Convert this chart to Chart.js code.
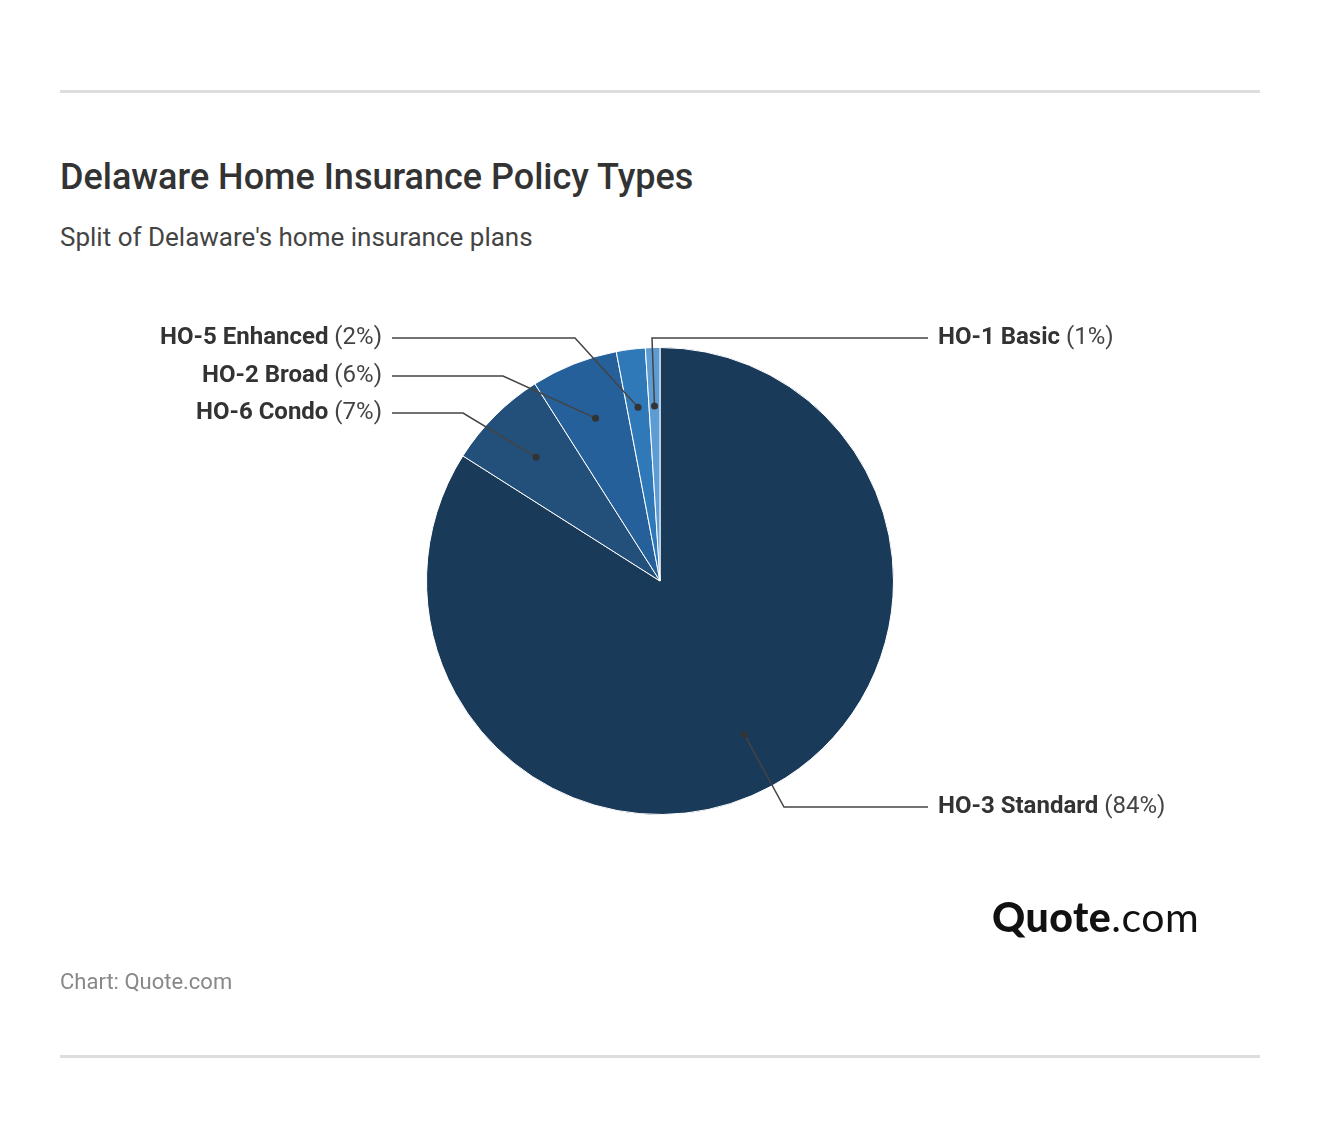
<!DOCTYPE html>
<html><head><meta charset="utf-8">
<script src="https://cdn.jsdelivr.net/npm/chart.js@4"></script>
<style>
body{margin:0;width:1320px;height:1134px;background:#fff;font-family:Roboto,sans-serif;position:relative;overflow:hidden}
.rule{position:absolute;left:60px;width:1200px;height:3px;background:#ddd}
#t{position:absolute;left:60px;top:156px;font-size:36px;font-weight:500;color:#333}
#s{position:absolute;left:60px;top:222px;font-size:26px;color:#444}
#c{position:absolute;left:0;top:0}
#logo{position:absolute;left:992px;top:892px;font-size:41px;color:#111;font-family:Lato,sans-serif;letter-spacing:0.5px}
#src{position:absolute;left:60px;top:969px;font-size:22px;color:#888}
</style></head><body>
<div class="rule" style="top:90px"></div>
<div class="rule" style="top:1055px"></div>
<div id="t">Delaware Home Insurance Policy Types</div>
<div id="s">Split of Delaware's home insurance plans</div>
<canvas id="c" width="1320" height="1134"></canvas>
<div id="logo"><b style="font-weight:900">Quote</b>.com</div>
<div id="src">Chart: Quote.com</div>
<script>
const categories=["HO-3 Standard","HO-6 Condo","HO-2 Broad","HO-5 Enhanced","HO-1 Basic"];
const values=[84,7,6,2,1];
const colors=["#1a3a5a","#22507a","#25609a","#3079b8","#5d9bd3"];
const labelY=[807,413,376,338,338];
const elbowX=[784,463,503,575,652];
const side=["r","l","l","l","r"];
const leader={id:'leader',afterDraw(ch){
 const ctx=ch.ctx;const meta=ch.getDatasetMeta(0);
 meta.data.forEach((a,i)=>{
  const mid=(a.startAngle+a.endAngle)/2;const r=a.outerRadius*0.75;
  const x=a.x+Math.cos(mid)*r,y=a.y+Math.sin(mid)*r;
  const ex=side[i]=='r'?928:392;
  ctx.strokeStyle='#444';ctx.lineWidth=1.5;ctx.beginPath();ctx.moveTo(x,y);ctx.lineTo(elbowX[i],labelY[i]);ctx.lineTo(ex,labelY[i]);ctx.stroke();
  ctx.fillStyle='#333';ctx.beginPath();ctx.arc(x,y,3.5,0,Math.PI*2);ctx.fill();
  const bold=categories[i],rest=' ('+values[i]+'%)';
  ctx.textBaseline='middle';
  ctx.font='bold 24px Roboto';const bw=ctx.measureText(bold).width;
  ctx.font='24px Roboto';const rw=ctx.measureText(rest).width;
  let tx=side[i]=='r'?938:382-bw-rw;
  ctx.fillStyle='#333';ctx.font='bold 24px Roboto';ctx.fillText(bold,tx,labelY[i]);
  ctx.font='24px Roboto';ctx.fillStyle='#444';ctx.fillText(rest,tx+bw,labelY[i]);
 });
}};
new Chart(document.getElementById('c'),{type:'pie',
 data:{labels:categories,datasets:[{data:values,backgroundColor:colors,borderColor:'#fff',borderWidth:1}]},
 options:{responsive:false,animation:false,layout:{padding:{left:426,right:426,top:347,bottom:319}},
  plugins:{legend:{display:false},tooltip:{enabled:false}}},
 plugins:[leader]});
</script></body></html>
